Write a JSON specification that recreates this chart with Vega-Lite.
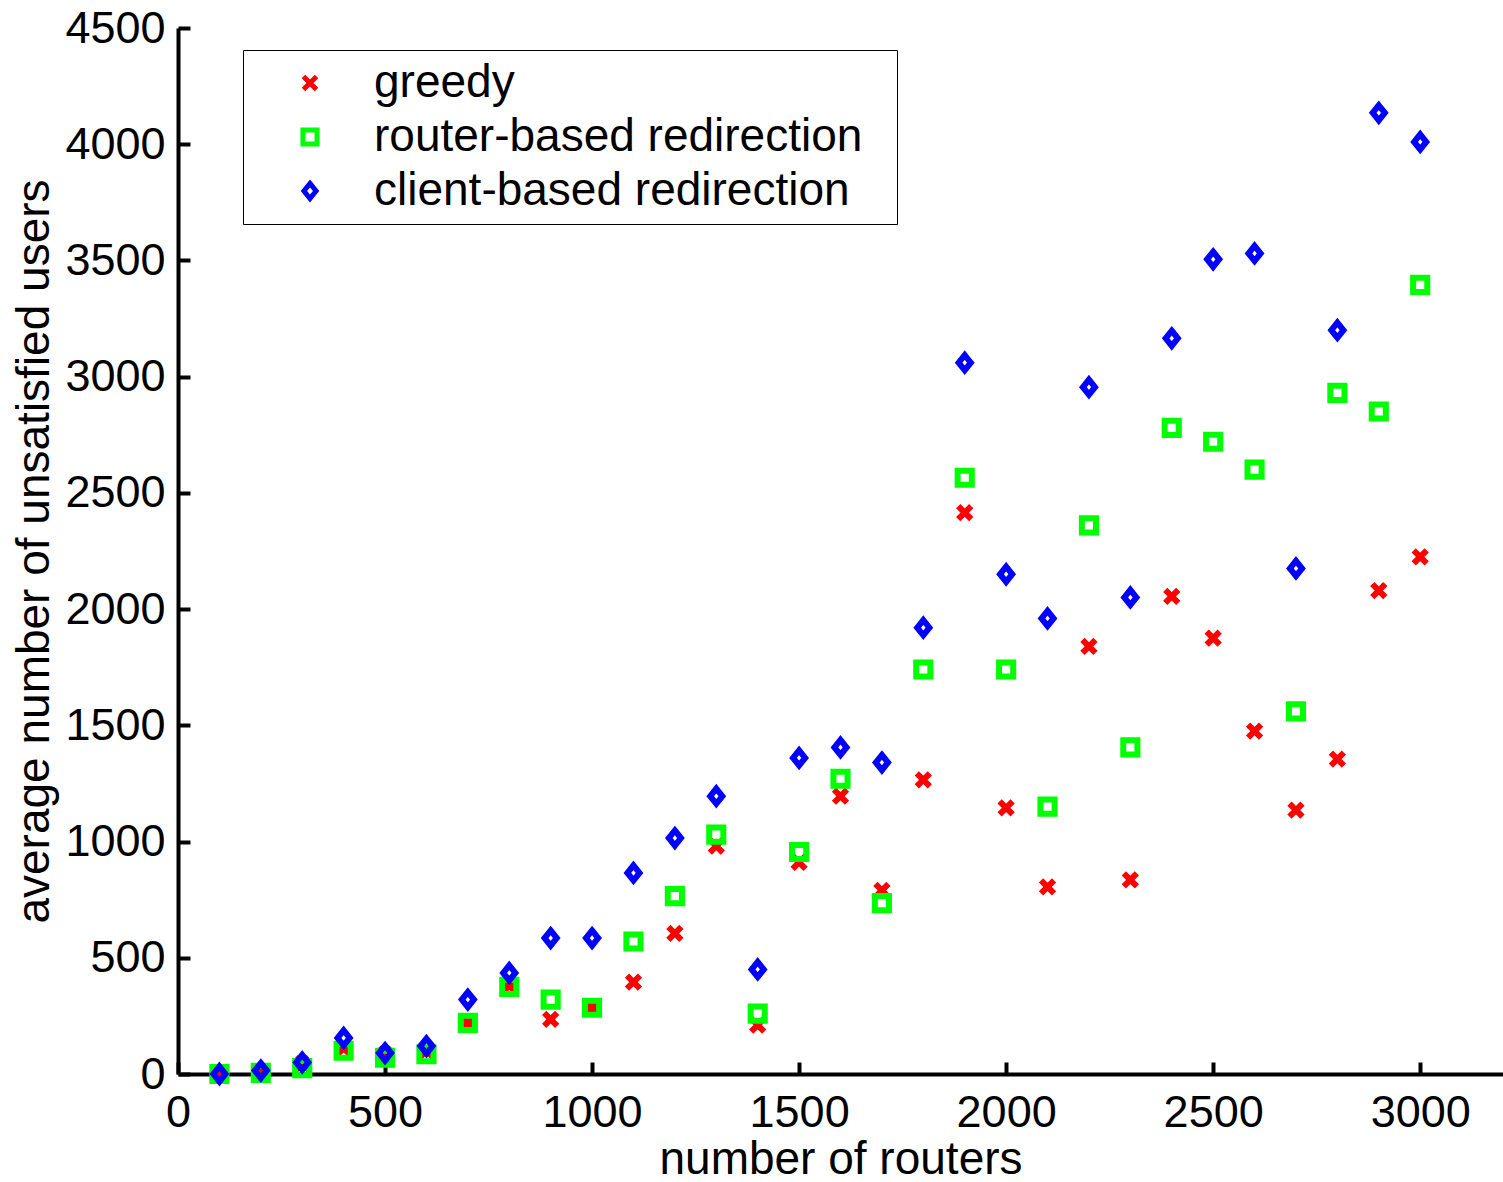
{
  "$schema": "https://vega.github.io/schema/vega-lite/v6.json",
  "width": 1325,
  "height": 1046,
  "autosize": {"type": "none"},
  "padding": {"left": 178, "top": 28, "right": 0, "bottom": 108},
  "background": "white",
  "config": {
    "view": {"stroke": null},
    "font": "Liberation Sans",
    "axis": {
      "domainColor": "black",
      "domainWidth": 4,
      "tickColor": "black",
      "tickWidth": 4,
      "tickSize": -12,
      "labelColor": "black",
      "labelFont": "Liberation Sans",
      "labelFontSize": 45,
      "titleFont": "Liberation Sans",
      "titleFontSize": 46,
      "titleFontWeight": "normal",
      "titleColor": "black",
      "grid": false,
      "format": "d"
    }
  },
  "data": {
    "values": [
      {"routers": 100, "users": 0, "method": "greedy"},
      {"routers": 200, "users": 10, "method": "greedy"},
      {"routers": 300, "users": 45, "method": "greedy"},
      {"routers": 400, "users": 110, "method": "greedy"},
      {"routers": 500, "users": 85, "method": "greedy"},
      {"routers": 600, "users": 100, "method": "greedy"},
      {"routers": 700, "users": 220, "method": "greedy"},
      {"routers": 800, "users": 380, "method": "greedy"},
      {"routers": 900, "users": 235, "method": "greedy"},
      {"routers": 1000, "users": 285, "method": "greedy"},
      {"routers": 1100, "users": 395, "method": "greedy"},
      {"routers": 1200, "users": 605, "method": "greedy"},
      {"routers": 1300, "users": 980, "method": "greedy"},
      {"routers": 1400, "users": 210, "method": "greedy"},
      {"routers": 1500, "users": 910, "method": "greedy"},
      {"routers": 1600, "users": 1195, "method": "greedy"},
      {"routers": 1700, "users": 790, "method": "greedy"},
      {"routers": 1800, "users": 1265, "method": "greedy"},
      {"routers": 1900, "users": 2415, "method": "greedy"},
      {"routers": 2000, "users": 1145, "method": "greedy"},
      {"routers": 2100, "users": 805, "method": "greedy"},
      {"routers": 2200, "users": 1840, "method": "greedy"},
      {"routers": 2300, "users": 835, "method": "greedy"},
      {"routers": 2400, "users": 2055, "method": "greedy"},
      {"routers": 2500, "users": 1875, "method": "greedy"},
      {"routers": 2600, "users": 1475, "method": "greedy"},
      {"routers": 2700, "users": 1135, "method": "greedy"},
      {"routers": 2800, "users": 1355, "method": "greedy"},
      {"routers": 2900, "users": 2080, "method": "greedy"},
      {"routers": 3000, "users": 2225, "method": "greedy"},
      {"routers": 100, "users": 0, "method": "router-based redirection"},
      {"routers": 200, "users": 5, "method": "router-based redirection"},
      {"routers": 300, "users": 25, "method": "router-based redirection"},
      {"routers": 400, "users": 100, "method": "router-based redirection"},
      {"routers": 500, "users": 70, "method": "router-based redirection"},
      {"routers": 600, "users": 85, "method": "router-based redirection"},
      {"routers": 700, "users": 220, "method": "router-based redirection"},
      {"routers": 800, "users": 375, "method": "router-based redirection"},
      {"routers": 900, "users": 320, "method": "router-based redirection"},
      {"routers": 1000, "users": 285, "method": "router-based redirection"},
      {"routers": 1100, "users": 570, "method": "router-based redirection"},
      {"routers": 1200, "users": 765, "method": "router-based redirection"},
      {"routers": 1300, "users": 1030, "method": "router-based redirection"},
      {"routers": 1400, "users": 260, "method": "router-based redirection"},
      {"routers": 1500, "users": 955, "method": "router-based redirection"},
      {"routers": 1600, "users": 1270, "method": "router-based redirection"},
      {"routers": 1700, "users": 735, "method": "router-based redirection"},
      {"routers": 1800, "users": 1740, "method": "router-based redirection"},
      {"routers": 1900, "users": 2565, "method": "router-based redirection"},
      {"routers": 2000, "users": 1740, "method": "router-based redirection"},
      {"routers": 2100, "users": 1150, "method": "router-based redirection"},
      {"routers": 2200, "users": 2360, "method": "router-based redirection"},
      {"routers": 2300, "users": 1405, "method": "router-based redirection"},
      {"routers": 2400, "users": 2780, "method": "router-based redirection"},
      {"routers": 2500, "users": 2720, "method": "router-based redirection"},
      {"routers": 2600, "users": 2600, "method": "router-based redirection"},
      {"routers": 2700, "users": 1560, "method": "router-based redirection"},
      {"routers": 2800, "users": 2930, "method": "router-based redirection"},
      {"routers": 2900, "users": 2850, "method": "router-based redirection"},
      {"routers": 3000, "users": 3395, "method": "router-based redirection"},
      {"routers": 100, "users": 0, "method": "client-based redirection"},
      {"routers": 200, "users": 15, "method": "client-based redirection"},
      {"routers": 300, "users": 50, "method": "client-based redirection"},
      {"routers": 400, "users": 155, "method": "client-based redirection"},
      {"routers": 500, "users": 90, "method": "client-based redirection"},
      {"routers": 600, "users": 120, "method": "client-based redirection"},
      {"routers": 700, "users": 320, "method": "client-based redirection"},
      {"routers": 800, "users": 435, "method": "client-based redirection"},
      {"routers": 900, "users": 585, "method": "client-based redirection"},
      {"routers": 1000, "users": 585, "method": "client-based redirection"},
      {"routers": 1100, "users": 865, "method": "client-based redirection"},
      {"routers": 1200, "users": 1015, "method": "client-based redirection"},
      {"routers": 1300, "users": 1195, "method": "client-based redirection"},
      {"routers": 1400, "users": 450, "method": "client-based redirection"},
      {"routers": 1500, "users": 1360, "method": "client-based redirection"},
      {"routers": 1600, "users": 1405, "method": "client-based redirection"},
      {"routers": 1700, "users": 1340, "method": "client-based redirection"},
      {"routers": 1800, "users": 1920, "method": "client-based redirection"},
      {"routers": 1900, "users": 3060, "method": "client-based redirection"},
      {"routers": 2000, "users": 2150, "method": "client-based redirection"},
      {"routers": 2100, "users": 1960, "method": "client-based redirection"},
      {"routers": 2200, "users": 2955, "method": "client-based redirection"},
      {"routers": 2300, "users": 2050, "method": "client-based redirection"},
      {"routers": 2400, "users": 3165, "method": "client-based redirection"},
      {"routers": 2500, "users": 3505, "method": "client-based redirection"},
      {"routers": 2600, "users": 3530, "method": "client-based redirection"},
      {"routers": 2700, "users": 2175, "method": "client-based redirection"},
      {"routers": 2800, "users": 3200, "method": "client-based redirection"},
      {"routers": 2900, "users": 4135, "method": "client-based redirection"},
      {"routers": 3000, "users": 4010, "method": "client-based redirection"}
    ]
  },
  "mark": {"type": "point", "filled": false, "strokeWidth": 6, "opacity": 1},
  "encoding": {
    "x": {
      "field": "routers",
      "type": "quantitative",
      "scale": {"domain": [0, 3200], "nice": false, "zero": false},
      "axis": {"title": "number of routers", "values": [0, 500, 1000, 1500, 2000, 2500, 3000], "labelPadding": 28, "titlePadding": 2, "labelFlush": false}
    },
    "y": {
      "field": "users",
      "type": "quantitative",
      "scale": {"domain": [0, 4500], "nice": false, "zero": false},
      "axis": {"title": "average number of unsatisfied users", "values": [0, 500, 1000, 1500, 2000, 2500, 3000, 3500, 4000, 4500], "labelPadding": 25, "titlePadding": 6, "labelFlush": false}
    },
    "color": {
      "field": "method",
      "type": "nominal",
      "sort": null,
      "scale": {"domain": ["greedy", "router-based redirection", "client-based redirection"], "range": ["#ff0000", "#00ff00", "#0000ff"]},
      "legend": {
        "title": "\u00a0",
        "titleOrient": "right",
        "titleFontSize": 10,
        "titlePadding": 25,
        "orient": "none",
        "legendX": 65,
        "legendY": 22,
        "strokeColor": "black",
        "fillColor": "white",
        "padding": 10,
        "rowPadding": 8,
        "labelFont": "Liberation Sans",
        "labelFontSize": 46,
        "labelColor": "black",
        "labelLimit": 0,
        "symbolOffset": 34,
        "labelOffset": 41,
        "symbolStrokeWidth": 5,
        "symbolSize": 150
      }
    },
    "shape": {
      "field": "method",
      "type": "nominal",
      "scale": {"domain": ["greedy", "router-based redirection", "client-based redirection"], "range": ["M-1,-1L1,1M-1,1L1,-1", "square", "M0,-1L0.8,0L0,1L-0.8,0Z"]}
    },
    "size": {
      "field": "method",
      "type": "nominal",
      "scale": {"domain": ["greedy", "router-based redirection", "client-based redirection"], "range": [170, 230, 480]},
      "legend": null
    }
  }
}
